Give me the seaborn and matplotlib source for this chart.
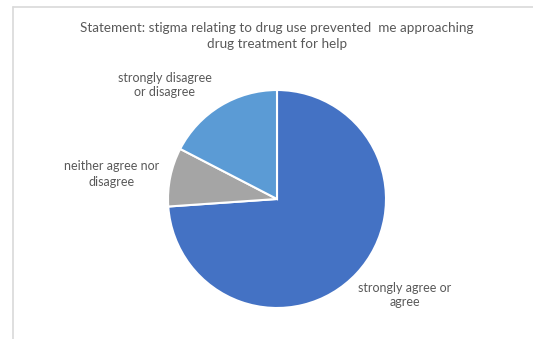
import matplotlib
matplotlib.use("Agg")
import matplotlib.pyplot as plt
import seaborn as sns
from matplotlib.lines import Line2D

# --- data ---
labels = ["strongly agree or\nagree", "neither agree nor\ndisagree", "strongly disagree\nor disagree"]
shares = [73.9, 8.7, 17.4]
colors = ["#4472C4", "#A5A5A5", "#5B9BD5"]
title = "Statement: stigma relating to drug use prevented  me approaching\ndrug treatment for help"

sns.set_theme(style="white")
plt.rcParams["font.family"] = ["Lato", "DejaVu Sans"]
txt = "#595959"

fig = plt.figure(figsize=(5.33, 3.39), dpi=100)
fig.patch.set_facecolor("white")

# chart frame (top and left edges visible)
fig.add_artist(Line2D([12.5 / 533, 1], [1 - 6.5 / 339, 1 - 6.5 / 339], color="#D9D9D9", lw=1.2))
fig.add_artist(Line2D([12.5 / 533, 12.5 / 533], [0, 1 - 6.5 / 339], color="#D9D9D9", lw=1.2))

ax = fig.add_axes([168 / 533, 31 / 339, 218 / 533, 218 / 339])
ax.pie(shares, colors=colors, startangle=90, counterclock=False,
       wedgeprops=dict(edgecolor="white", linewidth=1.5))
ax.set_xlim(-1.0, 1.0)
ax.set_ylim(-1.0, 1.0)
ax.set_aspect("equal")
ax.axis("off")

fig.text(277 / 533, 1 - 35.5 / 339, title, ha="center", va="center",
         fontsize=9.7, color=txt, linespacing=1.4)

label_pos = [(405, 295), (112, 174), (165, 85)]
for lab, (x, y) in zip(labels, label_pos):
    fig.text(x / 533, 1 - y / 339, lab, ha="center", va="center",
             fontsize=9, color=txt, linespacing=1.3)

fig.savefig("out.png", dpi=100, facecolor="white")
